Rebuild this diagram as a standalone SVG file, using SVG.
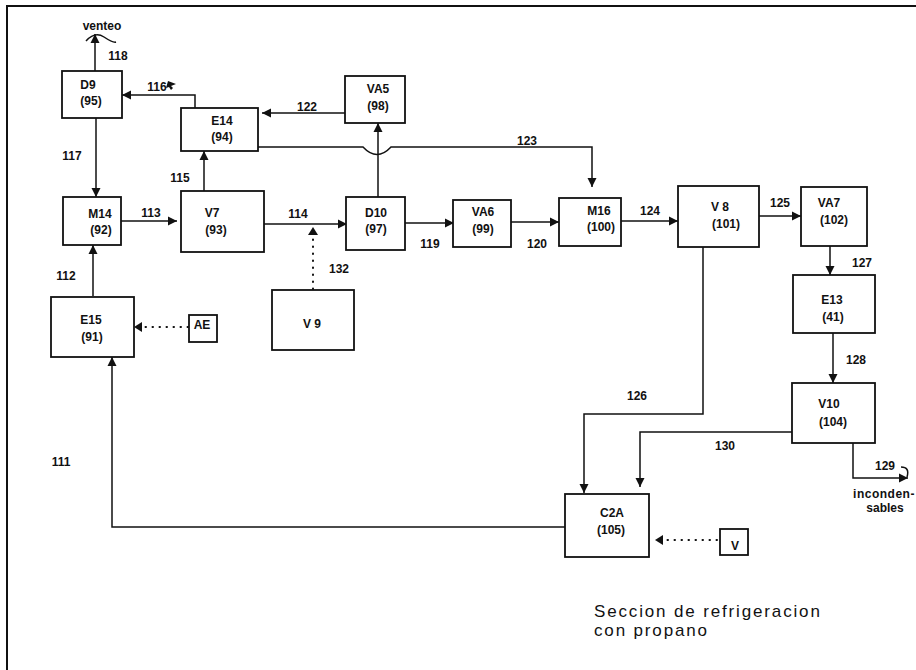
<svg xmlns="http://www.w3.org/2000/svg" width="916" height="670" viewBox="0 0 916 670">
<style>
.box{fill:#fff;stroke:#111;stroke-width:1.8}
.ln{fill:none;stroke:#111;stroke-width:1.5}
.dot{fill:none;stroke:#111;stroke-width:2;stroke-dasharray:0.5 6.5;stroke-linecap:round}
.t{font-family:"Liberation Sans",Arial,sans-serif;font-weight:bold;font-size:12px;fill:#111;text-anchor:middle}
.title{font-family:"Liberation Sans",Arial,sans-serif;font-size:17px;fill:#111;letter-spacing:1.85px}
</style>
<defs>
<marker id="arr" markerUnits="userSpaceOnUse" markerWidth="10" markerHeight="10" refX="9" refY="5" orient="auto">
<path d="M0,0.5 L9,5 L0,9.5 z" fill="#111"/>
</marker>
</defs>
<rect width="916" height="670" fill="#fff"/>
<g id="frame">
<line x1="6" y1="6" x2="916" y2="6" stroke="#111" stroke-width="2"/>
<line x1="7" y1="5" x2="7" y2="670" stroke="#111" stroke-width="2"/>
</g>
<g id="connectors">
<path class="ln" d="M95,71 V34" marker-end="url(#arr)"/>
<path class="ln" d="M86,41 Q95,31 104,37 T116,42"/>
<path class="ln" d="M96,118 V197" marker-end="url(#arr)"/>
<path class="ln" d="M195,108 V95 H122" marker-end="url(#arr)"/>
<path d="M168,81 L176,84 L171,86 L173,88 L171,90 L169,87 L166,88 z" fill="#111"/>
<path class="ln" d="M345,113 H262" marker-end="url(#arr)"/>
<path class="ln" d="M258,147 H363 Q377,162 391,147 H592 V187" marker-end="url(#arr)"/>
<path class="ln" d="M204,191 V151" marker-end="url(#arr)"/>
<path class="ln" d="M121,221 H177" marker-end="url(#arr)"/>
<path class="ln" d="M264,224 H347" marker-end="url(#arr)"/>
<path class="dot" d="M313,289 V236"/>
<path d="M308,235 L313,227 L318,235 z" fill="#111"/>
<path class="ln" d="M378,197 V123" marker-end="url(#arr)"/>
<path class="ln" d="M405,223 H454" marker-end="url(#arr)"/>
<path class="ln" d="M507,222 H559" marker-end="url(#arr)"/>
<path class="ln" d="M621,221 H678" marker-end="url(#arr)"/>
<path class="ln" d="M759,216 H801" marker-end="url(#arr)"/>
<path class="ln" d="M830,246 V275" marker-end="url(#arr)"/>
<path class="ln" d="M833,333 V383" marker-end="url(#arr)"/>
<path class="ln" d="M703,247 V414 H584 V493" marker-end="url(#arr)"/>
<path class="ln" d="M792,432 H640 V487" marker-end="url(#arr)"/>
<path class="ln" d="M853,443 V478 H908" marker-end="url(#arr)"/>
<path class="ln" d="M901,467 Q910,467 907,477"/>
<path class="dot" d="M717,540 H664"/>
<path d="M663,535 L655,540 L663,545 z" fill="#111"/>
<path class="dot" d="M188,327 H143"/>
<path d="M142,322 L134,327 L142,332 z" fill="#111"/>
<path class="ln" d="M565,527 H112 V357" marker-end="url(#arr)"/>
<path class="ln" d="M93,296 V245" marker-end="url(#arr)"/>
</g>
<g id="D9"><rect class="box" x="62" y="71" width="60" height="47"/><text class="t" x="88" y="89">D9</text><text class="t" x="91" y="105">(95)</text></g>
<g id="E14"><rect class="box" x="181" y="108" width="77" height="43"/><text class="t" x="222" y="125">E14</text><text class="t" x="222" y="141">(94)</text></g>
<g id="VA5"><rect class="box" x="345" y="76" width="60" height="47"/><text class="t" x="378" y="93">VA5</text><text class="t" x="378" y="110">(98)</text></g>
<g id="M14"><rect class="box" x="63" y="197" width="58" height="48"/><text class="t" x="100" y="218">M14</text><text class="t" x="101" y="234">(92)</text></g>
<g id="V7"><rect class="box" x="181" y="191" width="83" height="61"/><text class="t" x="212" y="217">V7</text><text class="t" x="216" y="234">(93)</text></g>
<g id="D10"><rect class="box" x="346" y="197" width="59" height="53"/><text class="t" x="376" y="217">D10</text><text class="t" x="376" y="233">(97)</text></g>
<g id="VA6"><rect class="box" x="453" y="200" width="58" height="47"/><text class="t" x="483" y="216">VA6</text><text class="t" x="483" y="233">(99)</text></g>
<g id="M16"><rect class="box" x="559" y="198" width="62" height="48"/><text class="t" x="599" y="215">M16</text><text class="t" x="601" y="231">(100)</text></g>
<g id="V8"><rect class="box" x="678" y="186" width="81" height="61"/><text class="t" x="720" y="211">V 8</text><text class="t" x="726" y="228">(101)</text></g>
<g id="VA7"><rect class="box" x="801" y="187" width="66" height="59"/><text class="t" x="829" y="207">VA7</text><text class="t" x="834" y="224">(102)</text></g>
<g id="E13"><rect class="box" x="793" y="275" width="82" height="58"/><text class="t" x="832" y="304">E13</text><text class="t" x="833" y="321">(41)</text></g>
<g id="V10"><rect class="box" x="792" y="383" width="83" height="60"/><text class="t" x="829" y="408">V10</text><text class="t" x="833" y="426">(104)</text></g>
<g id="E15"><rect class="box" x="51" y="297" width="83" height="60"/><text class="t" x="91" y="324">E15</text><text class="t" x="92" y="341">(91)</text></g>
<g id="AE"><rect class="box" x="189" y="315" width="28" height="27"/><text class="t" x="202" y="329">AE</text></g>
<g id="V9"><rect class="box" x="272" y="290" width="82" height="60"/><text class="t" x="312" y="328">V 9</text></g>
<g id="C2A"><rect class="box" x="565" y="494" width="84" height="63"/><text class="t" x="612" y="517">C2A</text><text class="t" x="611" y="534">(105)</text></g>
<g id="V"><rect class="box" x="720" y="529" width="28" height="26"/><text class="t" x="735" y="550">V</text></g>
<g id="labels">
<text class="t" x="102" y="30">venteo</text>
<text class="t" x="118" y="60">118</text>
<text class="t" x="157" y="91">116</text>
<text class="t" x="72" y="160">117</text>
<text class="t" x="180" y="182">115</text>
<text class="t" x="151" y="217">113</text>
<text class="t" x="307" y="111">122</text>
<text class="t" x="527" y="145">123</text>
<text class="t" x="298" y="218">114</text>
<text class="t" x="339" y="273">132</text>
<text class="t" x="430" y="248">119</text>
<text class="t" x="537" y="248">120</text>
<text class="t" x="650" y="215">124</text>
<text class="t" x="780" y="207">125</text>
<text class="t" x="862" y="267">127</text>
<text class="t" x="856" y="364">128</text>
<text class="t" x="725" y="450">130</text>
<text class="t" x="885" y="470">129</text>
<text class="t" x="637" y="400">126</text>
<text class="t" x="66" y="280">112</text>
<text class="t" x="61" y="466">111</text>
<text class="t" x="884" y="498" style="letter-spacing:0.5px">inconden-</text>
<text class="t" x="885" y="512">sables</text>
<text class="title" x="594" y="617">Seccion de refrigeracion</text>
<text class="title" x="594" y="636">con propano</text>
</g>
</svg>
